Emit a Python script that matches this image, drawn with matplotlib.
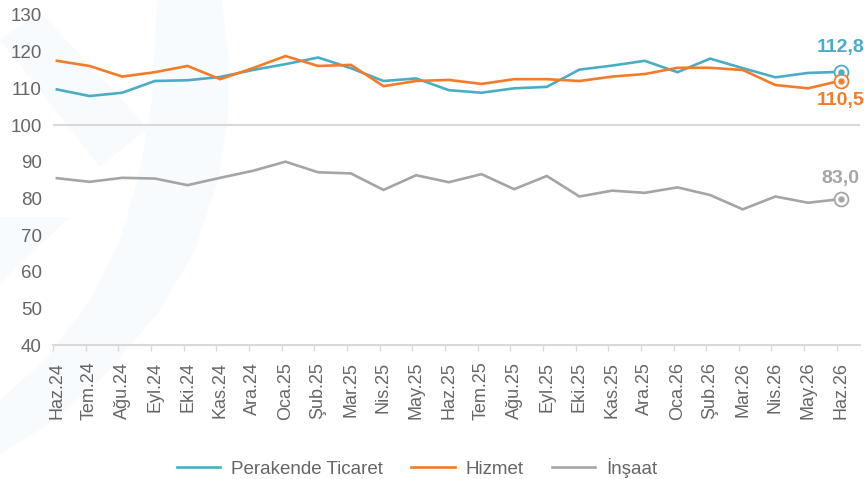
import numpy as np
import matplotlib.pyplot as plt
from matplotlib.patches import Polygon

aylar = ["Haz.24", "Tem.24", "Ağu.24", "Eyl.24", "Eki.24", "Kas.24", "Ara.24",
         "Oca.25", "Şub.25", "Mar.25", "Nis.25", "May.25", "Haz.25", "Tem.25",
         "Ağu.25", "Eyl.25", "Eki.25", "Kas.25", "Ara.25", "Oca.26", "Şub.26",
         "Mar.26", "Nis.26", "May.26", "Haz.26"]

perakende = [109.7, 107.9, 108.8, 112.0, 112.2, 113.1, 115.0, 116.6, 118.4, 115.5,
             112.0, 112.7, 109.5, 108.8, 110.0, 110.4, 115.1, 116.2, 117.5, 114.4,
             118.1, 115.5, 113.0, 114.2, 114.5]
hizmet = [117.5, 116.1, 113.2, 114.4, 116.1, 112.5, 115.5, 118.8, 116.1, 116.4,
          110.6, 112.0, 112.3, 111.2, 112.5, 112.5, 112.0, 113.2, 113.9, 115.6,
          115.6, 115.0, 110.9, 110.0, 112.1]
insaat = [85.5, 84.5, 85.6, 85.4, 83.6, 85.6, 87.5, 90.0, 87.1, 86.8,
          82.3, 86.3, 84.4, 86.6, 82.5, 86.1, 80.5, 82.1, 81.5, 83.0,
          80.9, 77.0, 80.5, 78.8, 79.8]

seriler = ["Perakende Ticaret", "Hizmet", "İnşaat"]
renkler = ["#4bacc6", "#f47b2a", "#a5a5a5"]
son_etiketler = ["112,8", "110,5", "83,0"]
etiket_kayma = [24, -20, 21]   # piksel, noktaya gore dikey

plt.rcParams['font.family'] = ['Liberation Sans', 'DejaVu Sans']

W, H = 864, 479
fig = plt.figure(figsize=(8.64, 4.79), dpi=100)


# arka plandaki silik logo (piksel koordinatindan figur oranina)
def silik(noktalar):
    pts = [[px / W, 1 - py / H] for px, py in noktalar]
    fig.patches.append(Polygon(pts, closed=True, transform=fig.transFigure,
                               facecolor="#f8fbfd", edgecolor="none", zorder=-5))


silik([(222, 0), (229, 60), (228, 120), (218, 180), (195, 250), (160, 310),
       (110, 370), (55, 420), (0, 455), (0, 400), (45, 360), (90, 300),
       (120, 240), (140, 170), (152, 100), (157, 0)])
silik([(0, 40), (40, 12), (148, 128), (100, 167)])
silik([(0, 217), (70, 217), (0, 283)])

ax = fig.add_axes([0.0613, 0.2797, 0.9337, 0.689])
ax.patch.set_alpha(0)

x = np.arange(len(aylar))
for veri, ad, renk in zip([perakende, hizmet, insaat], seriler, renkler):
    ax.plot(x, veri, color=renk, lw=1.9, label=ad, solid_joinstyle="miter", zorder=3)

# son nokta isaretleri ve etiketler
for veri, renk, et, dy in zip([perakende, hizmet, insaat], renkler, son_etiketler, etiket_kayma):
    ax.plot(x[-1], veri[-1], marker="o", ms=10, mfc="white", mec=renk, mew=1.3, zorder=4)
    ax.plot(x[-1], veri[-1], marker="o", ms=3.5, mfc=renk, mec=renk, zorder=5)
    ax.annotate(et, (x[-1], veri[-1]), xytext=(0, dy), textcoords="offset pixels",
                ha="center", va="center", fontsize=14, fontweight="bold", color=renk)

ax.axhline(100, color="#d9d9d9", lw=1.5, zorder=1)

ax.set_ylim(40, 130)
ax.set_yticks(range(40, 131, 10))
ax.set_xlim(-0.12, 24.58)
ax.set_xticks(x)
ax.set_xticklabels(aylar, rotation=90)
ax.set_xticks(x - 0.12, minor=True)
ax.tick_params(axis="x", which="major", length=0, pad=12, labelsize=13, labelcolor="#666666")
ax.tick_params(axis="x", which="minor", length=4, color="#d9d9d9", width=1)
ax.tick_params(axis="y", length=0, pad=8, labelsize=13.5, labelcolor="#666666")

for s in ["top", "right", "left"]:
    ax.spines[s].set_visible(False)
ax.spines["bottom"].set_color("#d9d9d9")
ax.spines["bottom"].set_linewidth(1.5)

fig.legend(loc="center", bbox_to_anchor=(0.483, 0.023), ncol=3, frameon=False,
           fontsize=13.5, handlelength=2.3, columnspacing=1.5, handletextpad=0.6,
           labelcolor="#666666")

plt.savefig("out.png", dpi=100)
